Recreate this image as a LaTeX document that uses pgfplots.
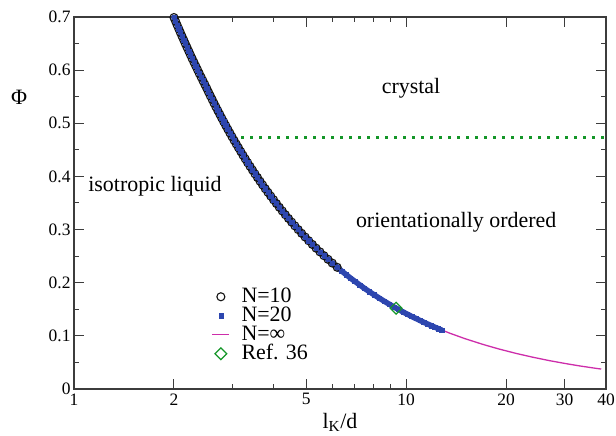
\documentclass[border=0pt]{standalone}
\usepackage{fontspec}
\setmainfont{Liberation Serif}
\usepackage{pgfplots}
\usepackage{pgfplotstable}
\pgfplotsset{compat=1.18}
\definecolor{cten}{RGB}{20,20,20}
\definecolor{ctw}{RGB}{45,70,175}
\definecolor{cinf}{RGB}{205,45,170}
\definecolor{cgr}{RGB}{20,150,40}
\definecolor{cax}{RGB}{60,60,60}
\pgfplotsset{
  markleg/.style={legend image code/.code={\path[draw=none,fill=none] (0bp,0bp) (17bp,0bp); \draw[##1] plot coordinates {(8.5bp,0bp)};}},
  lineleg/.style={legend image code/.code={\draw[##1] (0bp,0bp) -- (17bp,0bp);}},
}

\pgfplotstableread{
x y
2.000 0.699
2.022 0.692
2.044 0.685
2.067 0.678
2.090 0.671
2.114 0.664
2.139 0.657
2.163 0.650
2.189 0.643
2.215 0.636
2.241 0.629
2.268 0.622
2.296 0.615
2.325 0.608
2.354 0.601
2.383 0.594
2.414 0.587
2.445 0.580
2.477 0.573
2.509 0.566
2.540 0.559
2.572 0.552
2.606 0.545
2.639 0.538
2.674 0.531
2.710 0.524
2.747 0.517
2.784 0.510
2.823 0.503
2.863 0.496
2.904 0.489
2.946 0.482
2.989 0.475
3.034 0.468
3.080 0.461
3.128 0.454
3.177 0.447
3.227 0.440
3.279 0.433
3.333 0.426
3.389 0.419
3.447 0.412
3.506 0.405
3.568 0.398
3.632 0.391
3.698 0.384
3.767 0.377
3.838 0.370
3.912 0.363
3.989 0.356
4.069 0.349
4.152 0.342
4.239 0.335
4.329 0.328
4.424 0.321
4.522 0.314
4.625 0.307
4.733 0.300
4.846 0.293
4.965 0.286
5.090 0.279
5.221 0.272
5.358 0.265
5.504 0.258
5.657 0.251
5.820 0.244
5.992 0.237
6.201 0.229
}\tabten

\pgfplotstableread{
x y
2.000 0.699
2.022 0.692
2.044 0.685
2.067 0.678
2.090 0.671
2.114 0.664
2.139 0.657
2.163 0.650
2.189 0.643
2.215 0.636
2.241 0.629
2.268 0.622
2.296 0.615
2.325 0.608
2.354 0.601
2.383 0.594
2.414 0.587
2.445 0.580
2.477 0.573
2.509 0.566
2.540 0.559
2.572 0.552
2.606 0.545
2.639 0.538
2.674 0.531
2.710 0.524
2.747 0.517
2.784 0.510
2.823 0.503
2.863 0.496
2.904 0.489
2.946 0.482
2.989 0.475
3.034 0.468
3.080 0.461
3.128 0.454
3.177 0.447
3.227 0.440
3.279 0.433
3.333 0.426
3.389 0.419
3.447 0.412
3.506 0.405
3.568 0.398
3.632 0.391
3.698 0.384
3.767 0.377
3.838 0.370
3.912 0.363
3.989 0.356
4.069 0.349
4.152 0.342
4.239 0.335
4.329 0.328
4.424 0.321
4.522 0.314
4.625 0.307
4.733 0.300
4.846 0.293
4.965 0.286
5.090 0.279
5.221 0.272
5.358 0.265
5.504 0.258
5.657 0.251
5.820 0.244
5.992 0.237
6.201 0.229
6.40 0.2219
6.60 0.2152
6.80 0.2088
7.00 0.2029
7.25 0.1959
7.50 0.1893
7.75 0.1832
8.00 0.1775
8.30 0.1711
8.60 0.1651
8.90 0.1596
9.20 0.1543
9.50 0.1495
9.80 0.1449
10.1 0.1406
10.4 0.1365
10.7 0.1327
11.0 0.1291
11.3 0.1257
11.6 0.1224
11.9 0.1193
12.2 0.1164
12.5 0.1136
12.8 0.1109
}\tabtw

\pgfplotstableread{
x y
2.0 0.699
2.1 0.668
2.2 0.6395
2.3 0.6136
2.4 0.5898
2.5 0.568
2.6 0.5462
2.7 0.5259
2.8 0.5071
2.9 0.4897
3.0 0.4733
3.2 0.4438
3.4 0.4176
3.6 0.3944
3.8 0.3737
4.0 0.3550
4.3 0.3302
4.6 0.3087
5.0 0.2840
5.4 0.2630
5.8 0.2448
6.2 0.2290
6.7 0.2119
7.2 0.1972
7.8 0.1821
8.5 0.1671
9.3 0.1527
10.2 0.1392
11.2 0.1268
12.3 0.1154
13.5 0.1053
15.0 0.0950
17.0 0.0841
19.0 0.0754
21.5 0.0668
24.0 0.0600
27.0 0.0534
30.0 0.0482
33.5 0.0432
37.0 0.0392
38.7 0.0375
}\tabinf

\begin{document}
\begin{tikzpicture}
\begin{axis}[
  name=ax,
  scale only axis,
  width=532bp, height=372bp,
  xmode=log,
  xmin=1, xmax=40, ymin=0, ymax=0.7,
  clip=false,
  xtick={1,2,5,10,20,30,40},
  xticklabels={1,2,5,10,20,30,40},
  minor xtick={3,4,6,7,8,9},
  ytick={0,0.1,0.2,0.3,0.4,0.5,0.6,0.7},
  minor ytick={0.05,0.15,0.25,0.35,0.45,0.55,0.65},
  tick align=inside,
  major tick length=10bp,
  minor tick length=5bp,
  axis line style={line width=1.2bp, cax},
  every tick/.style={line width=1bp, cax},
  ticklabel style={font=\fontsize{17.5}{20}\selectfont},
  /pgf/number format/assume math mode=true,
  yticklabel style={/pgf/number format/fixed, /pgf/number format/precision=1},
  xticklabel style={yshift=-1bp},
  xlabel={l\textsubscript{K}/d},
  xlabel style={font=\fontsize{22}{24}\selectfont, at={(axis description cs:0.5,0)}, anchor=base, yshift=-39bp},
  ylabel={Φ},
  ylabel style={font=\fontsize{22}{24}\selectfont, rotate=-90, at={(axis description cs:-0.103,0.784)}, anchor=center},
  legend cell align=left,
  legend style={at={(axis description cs:0.2585,0.274)}, anchor=north west, draw=none, fill=none,
    inner sep=0pt, column sep=11bp,
    font=\fontsize{22}{24}\selectfont, row sep=0bp,
    nodes={inner sep=0.5bp, text height=14.5bp, text depth=3.5bp}},
]
% N=10
\addplot[only marks, mark=o, mark size=4bp, mark options={line width=1.1bp, draw=cten}, markleg]
  table[x=x,y=y] {\tabten};
\addlegendentry{N=10}
% N=20 band
\addplot[forget plot, ctw, line width=5.5bp, line cap=round] table[x=x,y=y] {\tabtw};
\addplot[only marks, mark=square*, mark size=2.1bp, mark options={draw=ctw, fill=ctw}, markleg]
  table[x=x,y=y] {\tabtw};
\addlegendentry{N=20}
% N=inf
\addplot[cinf, line width=1.3bp, no marks, lineleg] table[x=x,y=y] {\tabinf};
\addlegendentry{N=∞}
% Ref 36
\addplot[only marks, mark=square, mark size=4.2bp, mark options={rotate=45, line width=1.2bp, draw=cgr}, markleg]
  coordinates {(9.33,0.152)};
\addlegendentry{Ref. 36}
% crystal boundary
\addplot[forget plot, cgr, line width=3bp, dash pattern=on 3bp off 6bp] coordinates {(3.0,0.474) (40,0.474)};

\node[font=\fontsize{22}{24}\selectfont] at (axis cs:10.35,0.566) {crystal};
\node[font=\fontsize{22}{24}\selectfont] at (axis cs:1.754,0.382) {isotropic liquid};
\node[font=\fontsize{22}{24}\selectfont] at (axis cs:14.15,0.314) {orientationally ordered};
\end{axis}
\pgfresetboundingbox
\path[use as bounding box] ([xshift=-74bp,yshift=-47bp]ax.south west) rectangle ([xshift=10bp,yshift=17bp]ax.north east);
\end{tikzpicture}
\end{document}
